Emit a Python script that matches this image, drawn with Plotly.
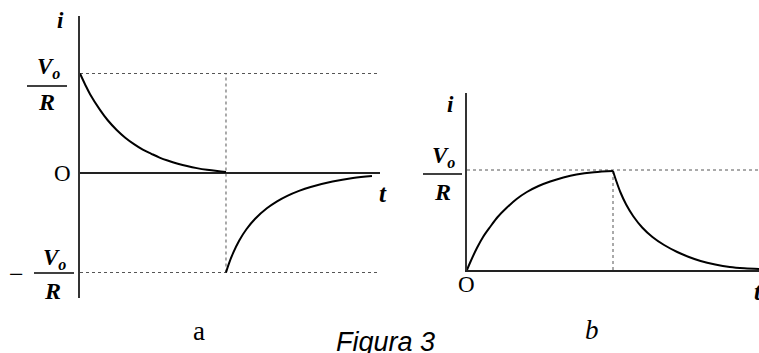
import plotly.graph_objects as go

W, H = 759, 353

# Time in units of the switching instant T, current in units of V0/R
T_SWITCH = 1.0
LEVEL = 1.0

# (a) capacitor current: discharge before T, reversed pulse after T
a_t1 = [0.0, 0.035, 0.07, 0.137, 0.19, 0.253, 0.31, 0.37, 0.43, 0.486,
        0.545, 0.60, 0.67, 0.74, 0.80, 0.87, 0.94, 1.0]
a_i1 = [1.0, 0.89, 0.79, 0.635, 0.53, 0.43, 0.355, 0.29, 0.235, 0.195,
        0.155, 0.125, 0.093, 0.067, 0.049, 0.032, 0.019, 0.01]
a_t2 = [1.0, 1.02, 1.05, 1.09, 1.14, 1.20, 1.28, 1.35, 1.42, 1.50,
        1.58, 1.73, 1.87, 2.0]
a_i2 = [-1.0, -0.91, -0.80, -0.68, -0.565, -0.46, -0.355, -0.285, -0.23, -0.18,
        -0.14, -0.085, -0.05, -0.03]

# (b) inductor current: rise before T, decay after T
b_t1 = [0.0, 0.02, 0.068, 0.11, 0.158, 0.21, 0.27, 0.34, 0.41, 0.49,
        0.57, 0.66, 0.75, 0.87, 1.0]
b_i1 = [0.0, 0.07, 0.22, 0.33, 0.43, 0.53, 0.62, 0.71, 0.78, 0.84,
        0.885, 0.925, 0.955, 0.978, 0.99]
b_t2 = [1.0, 1.02, 1.05, 1.09, 1.14, 1.20, 1.27, 1.35, 1.44, 1.52,
        1.60, 1.70, 1.80, 1.90, 2.0]
b_i2 = [0.99, 0.90, 0.78, 0.655, 0.535, 0.425, 0.33, 0.25, 0.18, 0.13,
        0.09, 0.055, 0.03, 0.017, 0.01]

A_TMAX = 2.055
B_TMAX = 2.0

def px(x):
    return x / W

def py(y):
    return 1 - y / H

curve = dict(color="black", width=2)
dot = dict(color="#555555", width=1, dash="dot")
smooth = dict(shape="spline", smoothing=1.0)

fig = go.Figure()

# panel a
fig.add_trace(go.Scatter(x=[0, A_TMAX], y=[LEVEL, LEVEL], mode="lines", line=dot, xaxis="x", yaxis="y"))
fig.add_trace(go.Scatter(x=[0, A_TMAX], y=[-LEVEL, -LEVEL], mode="lines", line=dot, xaxis="x", yaxis="y"))
fig.add_trace(go.Scatter(x=[T_SWITCH, T_SWITCH], y=[-LEVEL, LEVEL], mode="lines", line=dot, xaxis="x", yaxis="y"))
fig.add_trace(go.Scatter(x=a_t1, y=a_i1, mode="lines", line=dict(**smooth, **curve), xaxis="x", yaxis="y"))
fig.add_trace(go.Scatter(x=a_t2, y=a_i2, mode="lines", line=dict(**smooth, **curve), xaxis="x", yaxis="y"))

# panel b
fig.add_trace(go.Scatter(x=[0, B_TMAX], y=[LEVEL, LEVEL], mode="lines", line=dot, xaxis="x2", yaxis="y2"))
fig.add_trace(go.Scatter(x=[T_SWITCH, T_SWITCH], y=[0, LEVEL], mode="lines", line=dot, xaxis="x2", yaxis="y2"))
fig.add_trace(go.Scatter(x=b_t1, y=b_i1, mode="lines", line=dict(**smooth, **curve), xaxis="x2", yaxis="y2"))
fig.add_trace(go.Scatter(x=b_t2, y=b_i2, mode="lines", line=dict(**smooth, **curve), xaxis="x2", yaxis="y2"))

axis_common = dict(showgrid=False, showticklabels=False, ticks="", fixedrange=True)

fig.update_layout(
    width=W, height=H,
    margin=dict(l=0, r=0, t=0, b=0),
    paper_bgcolor="white", plot_bgcolor="white",
    showlegend=False,
    xaxis=dict(domain=[px(80), px(380)], range=[0, A_TMAX], zeroline=False,
               showline=False, anchor="y", **axis_common),
    yaxis=dict(domain=[py(298), py(16)], range=[(173 - 298) / 99.5, (173 - 16) / 99.5],
               zeroline=True, zerolinecolor="#222222", zerolinewidth=1.5,
               showline=True, linecolor="#333333", linewidth=1.5, anchor="x", **axis_common),
    xaxis2=dict(domain=[px(467), 1.0], range=[0, B_TMAX], zeroline=False,
                showline=True, linecolor="#222222", linewidth=1.5, anchor="y2", **axis_common),
    yaxis2=dict(domain=[py(270), py(93)], range=[0, 1.77], zeroline=False,
                showline=True, linecolor="#333333", linewidth=1.5, anchor="x2", **axis_common),
)

serif = "Liberation Serif"
ann = []

def label(text, x, y, size=20, family=serif):
    ann.append(dict(text=text, x=px(x), y=py(y), xref="paper", yref="paper",
                    xanchor="center", yanchor="middle", showarrow=False,
                    font=dict(family=family, size=size, color="black")))

def frac_bar(x0, x1, y):
    fig.add_shape(type="line", xref="paper", yref="paper",
                  x0=px(x0), x1=px(x1), y0=py(y), y1=py(y),
                  line=dict(color="black", width=1.5))

vo = "<b><i>V</i></b><sub><b><i>o</i></b></sub>"
rr = "<b><i>R</i></b>"

# panel a labels
label("<b><i>i</i></b>", 60, 20, 23)
label(vo, 48, 68, 23)
frac_bar(27, 67, 86)
label(rr, 46, 102, 24)
label("O", 62, 173, 23)
label("<b><i>t</i></b>", 383, 193, 25)
label("−", 16, 274, 26)
label(vo, 54, 259, 23)
frac_bar(34, 74, 273)
label(rr, 52, 291, 24)
label("a", 199, 331, 27)

# panel b labels
label("<b><i>i</i></b>", 450, 104, 23)
label(vo, 444, 157, 23)
frac_bar(423, 462, 174)
label(rr, 442, 192, 24)
label("O", 466, 284, 23)
label("<b><i>t</i></b>", 758, 291, 25)
label("<i>b</i>", 592, 330, 27)

# caption
label("<i>Figura 3</i>", 385, 342, 27, family="Liberation Sans")

fig.update_layout(annotations=ann)

fig.write_html("out.html")
